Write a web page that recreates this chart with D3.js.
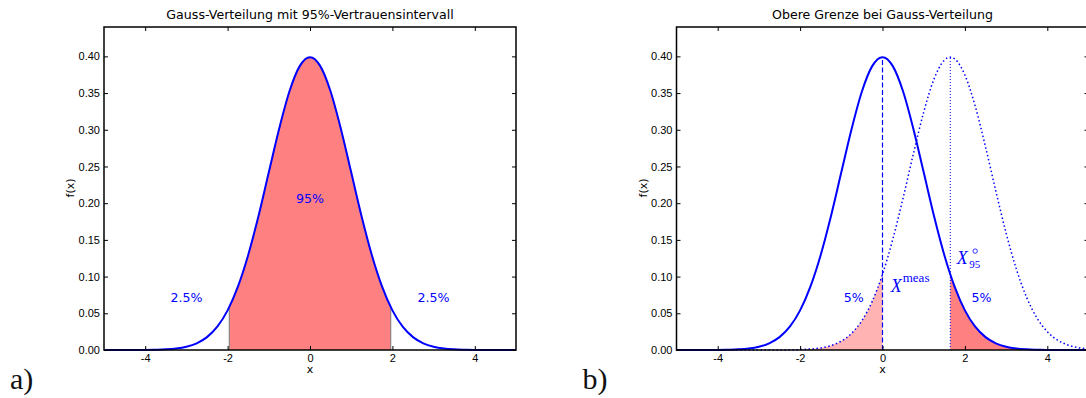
<!DOCTYPE html>
<html lang="de">
<head>
<meta charset="UTF-8">
<title>Gauss-Verteilung</title>
<script src="https://cdn.jsdelivr.net/npm/d3@7"></script>
<style>
  body { margin: 0; background: #fff; }
  svg { display: block; font-family: "DejaVu Sans", sans-serif; }
  .tick text { font-size: 11px; fill: #000; }
  .tick line { stroke: #000; }
  .note { font-size: 12.6px; fill: #00f; text-anchor: middle; }
  .math { font-family: "Liberation Serif", serif; fill: #00f; }
</style>
</head>
<body>
<svg id="chart" width="1086" height="398"></svg>
<script>
// solid curve: standard normal density, read at steps of 0.25
const gaussX = [-5, -4.75, -4.5, -4.25, -4, -3.75, -3.5, -3.25, -3, -2.75, -2.5, -2.25, -2, -1.75, -1.5, -1.25, -1, -0.75, -0.5, -0.25,
  0, 0.25, 0.5, 0.75, 1, 1.25, 1.5, 1.75, 2, 2.25, 2.5, 2.75, 3, 3.25, 3.5, 3.75, 4, 4.25, 4.5, 4.75, 5];
const gaussY = [0, 0, 0, 0, 0.0001, 0.0004, 0.0009, 0.002, 0.0044, 0.0091, 0.0175, 0.0317, 0.054, 0.0863, 0.1295, 0.1826, 0.242, 0.3011, 0.3521, 0.3867,
  0.3989, 0.3867, 0.3521, 0.3011, 0.242, 0.1826, 0.1295, 0.0863, 0.054, 0.0317, 0.0175, 0.0091, 0.0044, 0.002, 0.0009, 0.0004, 0.0001, 0, 0, 0, 0];

// dotted curve: the same density moved to the upper limit
const shiftX = [-5, -2.5, -2.25, -2, -1.75, -1.5, -1.25, -1, -0.75, -0.5, -0.25, 0, 0.25, 0.5, 0.75, 1, 1.25, 1.5, 1.645,
  1.75, 2, 2.25, 2.5, 2.75, 3, 3.25, 3.5, 3.75, 4, 4.25, 4.5, 4.75, 5];
const shiftY = [0, 0.0001, 0.0002, 0.0005, 0.0013, 0.0028, 0.006, 0.0121, 0.0227, 0.04, 0.0662, 0.1031, 0.1508, 0.2071, 0.2673, 0.324, 0.369, 0.3947, 0.3989,
  0.3967, 0.3745, 0.3322, 0.2768, 0.2166, 0.1593, 0.11, 0.0714, 0.0435, 0.0249, 0.0134, 0.0068, 0.0032, 0.0014];

const xTicks = [-4, -2, 0, 2, 4];
const yTicks = [0, 0.05, 0.1, 0.15, 0.2, 0.25, 0.3, 0.35, 0.4];

const ciBounds = [-1.96, 1.96];
const ciEdgeHeight = 0.058;
const xMeas = 0;
const x95 = 1.645;
const peakHeight = 0.399;

const notesA = [
  { x: -3, y: 0.072, text: "2.5%" },
  { x: 0, y: 0.207, text: "95%" },
  { x: 3, y: 0.072, text: "2.5%" }
];
const notesB = [
  { x: -0.7, y: 0.072, text: "5%" },
  { x: 2.4, y: 0.072, text: "5%" }
];

const svg = d3.select("#chart");
svg.append("rect").attr("width", 1086).attr("height", 398).attr("fill", "#fff");
const defs = svg.append("defs");

const plotW = 412, plotTop = 27, plotBottom = 350;

function makePanel(left, title, tag) {
  const x = d3.scaleLinear().domain([-5, 5]).range([left, left + plotW]);
  const y = d3.scaleLinear().domain([0, 0.44]).range([plotBottom, plotTop]);
  const g = svg.append("g");

  const line = d3.line().x(d => x(d[0])).y(d => y(d[1])).curve(d3.curveMonotoneX);
  const area = d3.area().x(d => x(d[0])).y0(y(0)).y1(d => y(d[1])).curve(d3.curveMonotoneX);

  const clipRange = (id, lo, hi) => {
    defs.append("clipPath").attr("id", id)
      .append("rect").attr("x", x(lo)).attr("y", plotTop).attr("width", x(hi) - x(lo)).attr("height", plotBottom - plotTop);
    return `url(#${id})`;
  };

  // axes text
  g.append("text").attr("x", (x(-5) + x(5)) / 2).attr("y", 19)
    .attr("text-anchor", "middle").attr("font-size", 12.6).text(title);
  g.append("text").attr("x", x(0)).attr("y", 373)
    .attr("text-anchor", "middle").attr("font-size", 11).text("x");
  g.append("text").attr("transform", `translate(${left - 30},188) rotate(-90)`)
    .attr("text-anchor", "middle").attr("font-size", 11).text("f(x)");

  g.append("text").attr("x", left - 94).attr("y", 389)
    .attr("font-family", "Liberation Serif, serif").attr("font-size", 30).attr("fill", "#111").text(tag);

  return { g, x, y, line, area, clipRange };
}

function drawAxes(p) {
  const { g, x, y } = p;
  g.append("g").attr("transform", `translate(0,${y(0)})`)
    .call(d3.axisBottom(x).tickValues(xTicks).tickSizeInner(-4).tickSizeOuter(0).tickPadding(4).tickFormat(d => String(d)))
    .call(a => a.select(".domain").remove());
  g.append("g").attr("transform", `translate(0,${y(0.44)})`)
    .call(d3.axisTop(x).tickValues(xTicks).tickSizeInner(-4).tickSizeOuter(0).tickFormat(""))
    .call(a => a.select(".domain").remove());
  g.append("g").attr("transform", `translate(${x(-5)},0)`)
    .call(d3.axisLeft(y).tickValues(yTicks).tickSizeInner(-4).tickSizeOuter(0).tickPadding(4).tickFormat(d3.format(".2f")))
    .call(a => a.select(".domain").remove());
  g.append("g").attr("transform", `translate(${x(5)},0)`)
    .call(d3.axisRight(y).tickValues(yTicks).tickSizeInner(-4).tickSizeOuter(0).tickFormat(""))
    .call(a => a.select(".domain").remove());
  g.append("rect").attr("x", x(-5)).attr("y", y(0.44))
    .attr("width", x(5) - x(-5)).attr("height", y(0) - y(0.44))
    .attr("fill", "none").attr("stroke", "#000").attr("stroke-width", 1.5);
}

const gauss = gaussX.map((v, i) => [v, gaussY[i]]);
const shifted = shiftX.map((v, i) => [v, shiftY[i]]);

// a) 95% interval
const a = makePanel(104, "Gauss-Verteilung mit 95%-Vertrauensintervall", "a)");
a.g.append("path").datum(gauss).attr("d", a.area)
  .attr("fill", "#ff8080").attr("clip-path", a.clipRange("ciA", ciBounds[0], ciBounds[1]));
a.g.selectAll(".edge").data(ciBounds).join("line")
  .attr("x1", d => a.x(d)).attr("x2", d => a.x(d))
  .attr("y1", a.y(0)).attr("y2", a.y(ciEdgeHeight))
  .attr("stroke", "#777").attr("stroke-width", 1);
a.g.append("path").datum(gauss).attr("d", a.line)
  .attr("fill", "none").attr("stroke", "#00f").attr("stroke-width", 2);
a.g.selectAll(".note").data(notesA).join("text").attr("class", "note")
  .attr("x", d => a.x(d.x)).attr("y", d => a.y(d.y)).attr("dy", "0.36em").text(d => d.text);
drawAxes(a);

// b) upper limit
const b = makePanel(676.5, "Obere Grenze bei Gauss-Verteilung", "b)");
b.g.append("path").datum(shifted).attr("d", b.area)
  .attr("fill", "#ffb3b3").attr("clip-path", b.clipRange("tailB1", -5, xMeas));
b.g.append("path").datum(gauss).attr("d", b.area)
  .attr("fill", "#ff8080").attr("clip-path", b.clipRange("tailB2", x95, 5));
b.g.append("line").attr("x1", b.x(xMeas)).attr("x2", b.x(xMeas))
  .attr("y1", b.y(0)).attr("y2", b.y(peakHeight))
  .attr("stroke", "#00f").attr("stroke-width", 1.2).attr("stroke-dasharray", "5,2.5");
b.g.append("line").attr("x1", b.x(x95)).attr("x2", b.x(x95))
  .attr("y1", b.y(0)).attr("y2", b.y(peakHeight))
  .attr("stroke", "#00f").attr("stroke-width", 1).attr("stroke-dasharray", "1,2");
b.g.append("path").datum(shifted).attr("d", b.line)
  .attr("fill", "none").attr("stroke", "#00f").attr("stroke-width", 1.5).attr("stroke-dasharray", "1.5,2.5");
b.g.append("path").datum(gauss).attr("d", b.line)
  .attr("fill", "none").attr("stroke", "#00f").attr("stroke-width", 2);
b.g.selectAll(".note").data(notesB).join("text").attr("class", "note")
  .attr("x", d => b.x(d.x)).attr("y", d => b.y(d.y)).attr("dy", "0.36em").text(d => d.text);

// math labels
const meas = b.g.append("text").attr("class", "math")
  .attr("x", b.x(0.2)).attr("y", b.y(0.079));
meas.append("tspan").attr("font-style", "italic").attr("font-size", 18).text("X");
meas.append("tspan").attr("font-size", 13).attr("dx", 1).attr("dy", -10).text("meas");

const up = b.g.append("g").attr("transform", `translate(${b.x(1.8)},${b.y(0.117)})`);
up.append("text").attr("class", "math").attr("font-style", "italic").attr("font-size", 18).text("X");
up.append("text").attr("class", "math").attr("font-size", 11).attr("x", 12.5).attr("y", 4).text("95");
up.append("circle").attr("cx", 18.5).attr("cy", -13).attr("r", 2.2)
  .attr("fill", "none").attr("stroke", "#00f").attr("stroke-width", 0.8);

drawAxes(b);
</script>
</body>
</html>
